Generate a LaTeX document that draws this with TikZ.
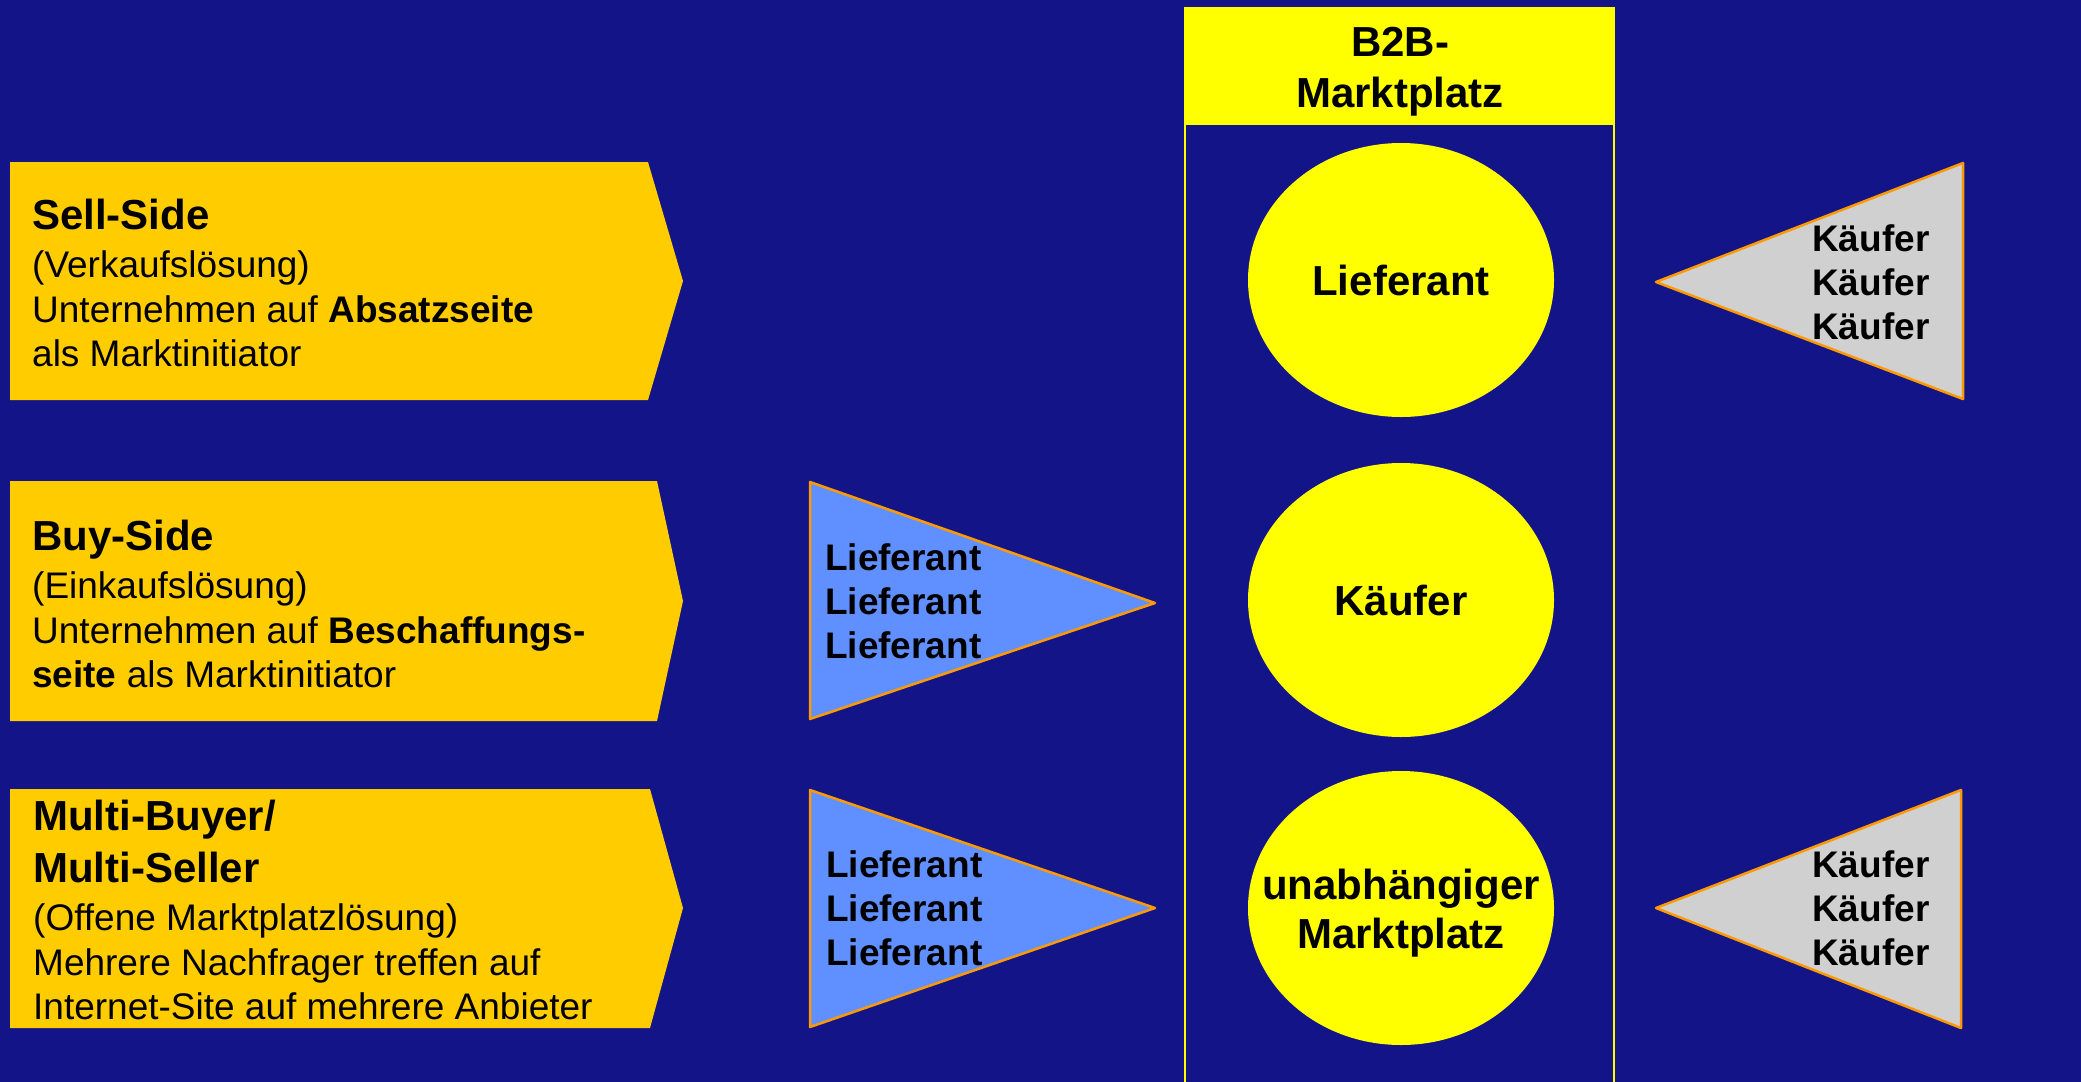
\documentclass[tikz,border=0pt]{standalone}
\usepackage{fontspec}
\setmainfont{Liberation Sans}
\usetikzlibrary{shapes.geometric}
\definecolor{bgblue}{RGB}{20,20,137}
\definecolor{gold}{RGB}{255,204,0}
\definecolor{lemon}{RGB}{255,255,0}
\definecolor{skyblue}{RGB}{96,144,255}
\definecolor{lightgrey}{RGB}{208,208,208}
\definecolor{edgeorange}{RGB}{255,153,0}
\newcommand\hdfont{\fontsize{42}{48}\selectfont\bfseries}
\tikzset{
  panel/.style={fill=gold},
  flag/.style={draw=edgeorange, line width=2.5pt, line join=round},
  supplierflag/.style={flag, fill=skyblue},
  buyerflag/.style={flag, fill=lightgrey},
  bodytext/.style={align=left, anchor=west, inner sep=0pt,
    font=\fontsize{37}{44.5}\selectfont},
  flagtext/.style={align=left, anchor=west, inner sep=0pt,
    font=\fontsize{37}{44}\selectfont\bfseries},
  roundel/.style={ellipse, fill=lemon, minimum width=306pt, minimum height=274pt,
    inner sep=0pt},
  roundeltext/.style={align=center, inner sep=0pt,
    font=\fontsize{42}{49}\selectfont\bfseries}
}
\begin{document}
\begin{tikzpicture}[x=1pt, y=-1pt]
  \useasboundingbox (0,0) rectangle (2081,1082);
  \fill[bgblue] (0,0) rectangle (2081,1082);
  \clip (0,0) rectangle (2081,1082);

  % left-hand panels
  \fill[panel] (10,162) -- (648,162) -- (683,281) -- (648,400) -- (10,400) -- cycle;
  \node[bodytext] (sell) at (32,283)
    {{\hdfont Sell-Side}\\[3.5pt]
     (Verkaufslösung)\\
     Unternehmen auf \textbf{Absatzseite}\\
     als Marktinitiator};

  \fill[panel] (10,481) -- (657,481) -- (683,601) -- (657,721) -- (10,721) -- cycle;
  \node[bodytext] (buy) at (32,604)
    {{\hdfont Buy-Side}\\[3.5pt]
     (Einkaufslösung)\\
     Unternehmen auf \textbf{Beschaffungs-}\\
     \textbf{seite} als Marktinitiator};

  \fill[panel] (10,789) -- (650,789) -- (683,908) -- (650,1028) -- (10,1028) -- cycle;
  \node[bodytext] (multi) at (33,910)
    {{\hdfont Multi-Buyer/}\\[7.5pt]
     {\hdfont Multi-Seller}\\[3.5pt]
     (Offene Marktplatzlösung)\\
     Mehrere Nachfrager treffen auf\\
     Internet-Site auf mehrere Anbieter};

  % marketplace column
  \draw[lemon, line width=2pt] (1185,8) rectangle (1614,1090);
  \fill[lemon] (1185,8) rectangle (1614,125);
  \node[align=center, font=\fontsize{42}{51}\selectfont\bfseries] (b2b) at (1400,72)
    {B2B-\\Marktplatz};

  \node[roundel] (lief) at (1401,280) {};
  \node[roundeltext] (liefT) at (lief) {Lieferant};
  \node[roundel] (kauf) at (1401,600) {};
  \node[roundeltext] (kaufT) at (kauf) {Käufer};
  \node[roundel] (umarkt) at (1401,908) {};
  \node[roundeltext] (umarktT) at (1401,913) {unabhängiger\\Marktplatz};

  % supplier flags
  \draw[supplierflag] (810,482) -- (1155,603) -- (810,719) -- cycle;
  \node[flagtext] (supA) at (825,601) {Lieferant\\Lieferant\\Lieferant};
  \draw[supplierflag] (810,790) -- (1155,908) -- (810,1027) -- cycle;
  \node[flagtext] (supB) at (826,908) {Lieferant\\Lieferant\\Lieferant};

  % buyer flags
  \draw[buyerflag] (1963,163) -- (1656,282) -- (1963,399) -- cycle;
  \node[flagtext] (buyA) at (1812,282) {Käufer\\Käufer\\Käufer};
  \draw[buyerflag] (1961,790) -- (1656,908) -- (1961,1028) -- cycle;
  \node[flagtext] (buyB) at (1812,908) {Käufer\\Käufer\\Käufer};
\end{tikzpicture}
\end{document}
